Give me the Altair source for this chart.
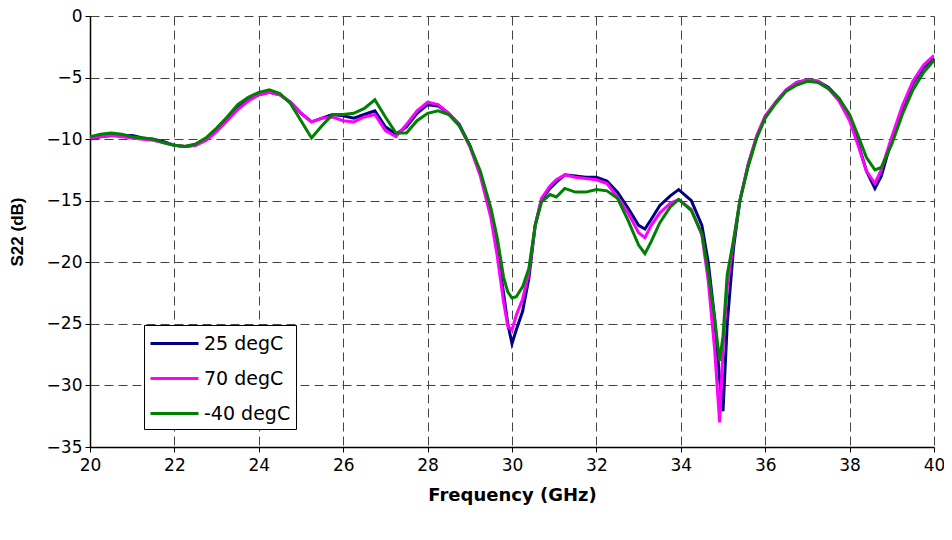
import altair as alt
import pandas as pd

freq = [20.0, 20.25, 20.5, 20.75, 21.0, 21.25, 21.5, 21.75, 22.0, 22.25, 22.5, 22.75,
        23.0, 23.25, 23.5, 23.75, 24.0, 24.25, 24.5, 24.75, 25.0, 25.25, 25.5, 25.75,
        26.0, 26.25, 26.5, 26.75, 27.0, 27.25, 27.5, 27.75, 28.0, 28.25, 28.5, 28.75,
        29.0, 29.25, 29.5, 29.65, 29.8, 29.9, 30.0, 30.1, 30.25, 30.4, 30.55, 30.7,
        30.9, 31.05, 31.25, 31.5, 31.75, 32.0, 32.25, 32.5, 32.75, 33.0, 33.15, 33.3,
        33.5, 33.75, 33.95, 34.25, 34.5, 34.65, 34.8, 34.92, 35.0, 35.1, 35.25, 35.4,
        35.6, 35.8, 36.0, 36.25, 36.5, 36.75, 37.0, 37.25, 37.5, 37.75, 38.0, 38.2,
        38.4, 38.6, 38.75, 39.0, 39.25, 39.5, 39.75, 40.0]

s22_25 = [-10.0, -9.8, -9.7, -9.7, -9.7, -9.9, -10.0, -10.2, -10.5, -10.6, -10.5, -10.0,
          -9.3, -8.4, -7.5, -6.8, -6.4, -6.2, -6.4, -7.0, -7.9, -8.6, -8.3, -8.0,
          -8.1, -8.3, -8.0, -7.7, -9.0, -9.6, -9.0, -7.9, -7.2, -7.3, -7.9, -8.8,
          -10.5, -12.8, -16.0, -19.0, -22.5, -25.0, -26.6, -25.5, -24.0, -21.3, -17.0, -14.9,
          -14.0, -13.5, -12.9, -13.0, -13.1, -13.1, -13.4, -14.3, -15.6, -17.0, -17.3, -16.5,
          -15.4, -14.6, -14.1, -15.0, -17.0, -20.0, -24.5, -29.5, -32.1, -25.0, -18.8, -15.0,
          -12.0, -9.8, -8.2, -7.0, -6.0, -5.4, -5.2, -5.3, -5.8, -6.7, -8.2, -10.3,
          -12.6, -14.0, -13.0, -10.0, -7.5, -5.5, -4.2, -3.4]

s22_70 = [-9.9, -9.8, -9.7, -9.8, -9.9, -10.0, -10.1, -10.3, -10.5, -10.6, -10.5, -10.1,
          -9.4, -8.5, -7.6, -6.9, -6.4, -6.2, -6.4, -7.0, -7.9, -8.6, -8.3, -8.2,
          -8.5, -8.6, -8.2, -8.0, -9.3, -9.8, -8.8, -7.7, -7.0, -7.2, -7.9, -8.9,
          -10.6, -13.0, -16.4, -19.5, -23.2, -25.2, -25.5, -24.3, -23.0, -20.8, -17.0, -14.8,
          -13.8, -13.3, -12.9, -13.1, -13.2, -13.3, -13.6, -14.7, -16.0, -17.6, -18.0, -17.0,
          -16.0, -15.2, -14.9, -15.7, -17.8, -21.5, -27.0, -33.0, -27.0, -22.0, -18.3, -15.0,
          -12.0, -9.7, -8.1, -7.0, -6.0, -5.4, -5.2, -5.3, -5.9, -6.9, -8.5, -10.5,
          -12.6, -13.6, -12.5, -9.8, -7.3, -5.3, -4.0, -3.2]

s22_m40 = [-9.8, -9.6, -9.5, -9.6, -9.8, -9.9, -10.0, -10.3, -10.5, -10.6, -10.4, -9.9,
           -9.1, -8.2, -7.2, -6.6, -6.2, -6.0, -6.3, -7.1, -8.5, -9.9, -8.9, -8.0,
           -8.0, -7.9, -7.5, -6.8, -8.2, -9.5, -9.5, -8.5, -7.9, -7.7, -8.0, -8.9,
           -10.5, -12.6, -15.6, -18.0, -21.2, -22.4, -22.9, -22.8, -22.0, -20.5, -17.0, -15.1,
           -14.5, -14.7, -14.0, -14.3, -14.3, -14.1, -14.2, -14.8, -16.6, -18.6, -19.3, -18.3,
           -16.8, -15.5, -14.9, -15.8, -17.7, -20.8, -24.5, -28.0, -26.0, -21.0, -18.2, -15.0,
           -12.2, -9.9, -8.3, -7.1, -6.1, -5.6, -5.3, -5.4, -5.9, -6.7, -8.0, -9.7,
           -11.5, -12.5, -12.3, -10.4, -8.0, -6.0, -4.6, -3.6]

series = ["25 degC", "70 degC", "-40 degC"]
colors = ["#000080", "#FF00FF", "#008000"]
x_ticks = list(range(20, 41, 2))
y_ticks = list(range(-35, 1, 5))

rows = []
for name, vals in zip(series, [s22_25, s22_70, s22_m40]):
    for f, v in zip(freq, vals):
        rows.append({"freq": f, "s22": v, "temp": name})
df = pd.DataFrame(rows)

WIDE = "DejaVu Sans"
ARIAL = "Liberation Sans"

chart = alt.Chart(df).mark_line(strokeWidth=3, clip=True).encode(
    x=alt.X("freq:Q",
            scale=alt.Scale(domain=[20, 40], nice=False, zero=False),
            axis=alt.Axis(values=x_ticks, title="Frequency (GHz)", grid=True,
                          labelFlush=False, labelPadding=5, titlePadding=13,
                          titleFont=WIDE, titleFontSize=18)),
    y=alt.Y("s22:Q",
            scale=alt.Scale(domain=[-35, 0], nice=False, zero=False),
            axis=alt.Axis(values=y_ticks, title="S22 (dB)", grid=True,
                          labelFlush=False, labelPadding=3, titlePadding=20,
                          titleFont=ARIAL, titleFontSize=17)),
    color=alt.Color("temp:N",
                    scale=alt.Scale(domain=series, range=colors),
                    legend=alt.Legend(title=None, orient="none", legendX=54, legendY=309,
                                      symbolType="M-1,0H3", symbolStrokeWidth=3,
                                      symbolSize=576, labelFontSize=19, labelFont=WIDE,
                                      labelColor="black", strokeColor="black",
                                      fillColor="white", padding=5, rowPadding=11,
                                      labelOffset=28, cornerRadius=0)),
).properties(
    width=844, height=431,
    padding={"left": 82, "top": 8, "right": 10, "bottom": 74},
    autosize="none",
    background="white",
).configure_view(stroke=None).configure_axis(
    labelFont=WIDE, labelFontSize=17, titleFontWeight="bold",
    labelColor="black", titleColor="black",
    domainColor="black", domainWidth=1.5, tickColor="black", tickSize=5,
    gridColor="#444444", gridDash=[9, 5], gridWidth=1, gridOpacity=1,
)

chart.save("out.html", embed_options={"renderer": "svg", "actions": False})
